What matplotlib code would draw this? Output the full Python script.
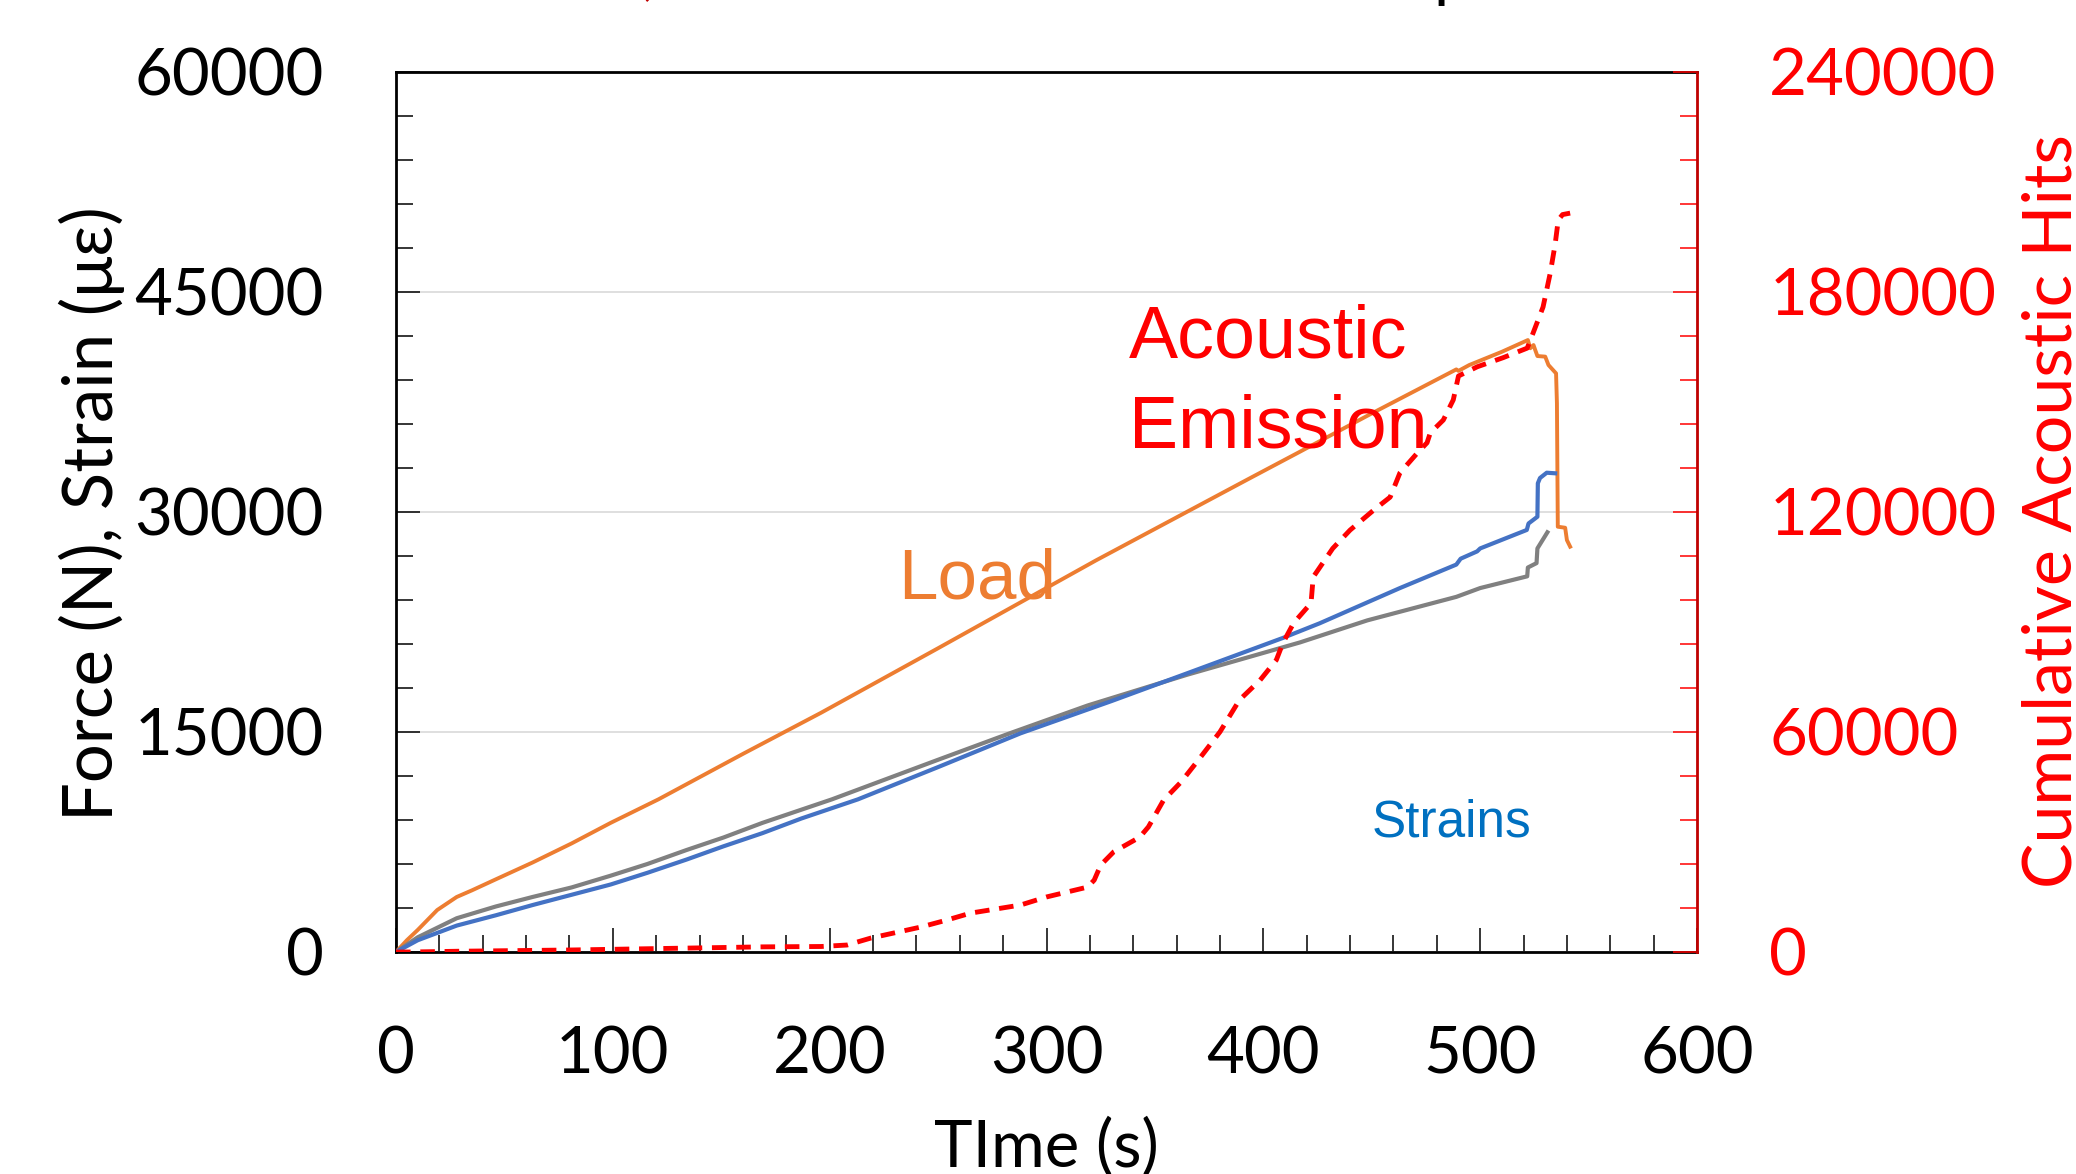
import matplotlib

matplotlib.use("Agg")
import matplotlib.pyplot as plt
from matplotlib.ticker import MultipleLocator

W, H = 2076, 1174

# load (N), kN units x1000
load_t = [0, 5, 10, 19, 28, 35, 46, 63, 81, 99, 121, 160, 196, 250, 323, 394, 417, 450, 489,
          490, 495, 510, 522.0, 523.1, 524.6, 525.4, 526.4, 530.0, 531.5, 535.0, 535.4, 535.8,
          539.2, 540.0, 541.5]
load_v = [0, 0.8, 1.5, 2.86, 3.75, 4.2, 4.95, 6.1, 7.4, 8.8, 10.4, 13.5, 16.3, 20.7, 26.7, 32.3, 34.1,
          36.7, 39.7, 39.6, 40.0, 40.9, 41.7, 41.14, 41.36, 41.02, 40.61, 40.57, 40.0, 39.43, 37.39,
          28.98, 28.91, 28.07, 27.62]

strain1_t = [0, 10, 28, 46, 63, 81, 99, 116, 134, 151, 169, 187, 213, 250, 288, 330, 365, 409, 426,
             463, 489, 491, 498.6, 500, 521.5, 522.3, 526.4, 526.6, 527.6, 530.7, 534.6]
strain1_v = [0, 0.8, 1.8, 2.5, 3.2, 3.9, 4.6, 5.4, 6.3, 7.2, 8.1, 9.1, 10.4, 12.6, 14.9, 17.1, 19.0,
             21.4, 22.4, 24.8, 26.4, 26.8, 27.3, 27.5, 28.76, 29.2, 29.66, 31.94, 32.3, 32.66, 32.62]

strain2_t = [0, 10, 28, 46, 63, 81, 99, 116, 134, 151, 169, 187, 201, 250, 283, 319, 365, 417, 448,
             489, 500, 521.7, 522, 526, 526.4, 531]
strain2_v = [0, 1.0, 2.3, 3.1, 3.75, 4.4, 5.2, 6.0, 6.95, 7.8, 8.8, 9.7, 10.4, 13.1, 14.9, 16.8, 18.9,
             21.1, 22.6, 24.2, 24.8, 25.6, 26.2, 26.5, 27.5, 28.6]

ae_t = [0, 7, 28, 81, 169, 196, 208, 219, 242, 254, 265, 288, 300, 319, 322, 325, 331, 343, 347, 354,
        362, 370, 380, 389, 398.5, 406, 409, 414, 422, 423, 432, 440, 451, 458.5, 463, 471, 475.5,
        477, 483, 487.6, 490, 498.6, 510.6, 521.7, 524.4, 529, 532.3, 534.6, 536, 538, 541.5]
ae_v = [0, 0, 0.2, 0.55, 1.4, 1.5, 1.9, 3.8, 6.8, 8.7, 10.6, 12.8, 15, 17.7, 19.6, 23.7, 27.3, 31.3,
        34.1, 41.4, 46.3, 52.3, 60, 68.7, 74.1, 79.6, 84.2, 89.7, 95.1, 102.2, 110, 115, 120.5, 124,
        130.6, 136, 138.8, 141.5, 145, 150.5, 157, 159.5, 162, 164.6, 168.7, 175.8, 185, 193, 199.5,
        201, 201.4]

FONT = ["Lato", "DejaVu Sans"]
ARIAL = ["Liberation Sans", "DejaVu Sans"]

fig = plt.figure(figsize=(W / 100, H / 100), dpi=100)
ax = fig.add_axes([396 / W, 1 - 952 / H, (1697 - 396) / W, (952 - 71.5) / H])
ax2 = ax.twinx()

ax.plot(load_t, [v * 1000 for v in load_v], color="#ED7D31", lw=2.8, zorder=3)
ax.plot(strain2_t, [v * 1000 for v in strain2_v], color="#808080", lw=3, zorder=3)
ax.plot(strain1_t, [v * 1000 for v in strain1_v], color="#4472C4", lw=3, zorder=3)
ax2.plot(ae_t, [v * 1000 for v in ae_v], color="#FF0000", lw=3.5, dashes=(3, 2))

ax.set_xlim(0, 600)
ax.set_ylim(0, 60000)
ax2.set_ylim(0, 240000)

ax.xaxis.set_major_locator(MultipleLocator(100))
ax.xaxis.set_minor_locator(MultipleLocator(20))
ax.yaxis.set_major_locator(MultipleLocator(15000))
ax.yaxis.set_minor_locator(MultipleLocator(3000))
ax2.yaxis.set_major_locator(MultipleLocator(60000))
ax2.yaxis.set_minor_locator(MultipleLocator(12000))

ax.grid(axis="y", which="major", color="#D9D9D9", lw=1.2, zorder=0)

ax.tick_params(axis="both", which="major", direction="in", length=17, width=1.1, color="black",
               labelsize=47, pad=52)
ax.tick_params(axis="both", which="minor", direction="in", length=12.5, width=1.1, color="black")
ax.tick_params(axis="x", which="major", pad=53)
ax.tick_params(top=False, which="both")
ax2.tick_params(axis="y", which="major", direction="in", length=17, width=1.1, color="#FF0000",
                labelsize=47, labelcolor="#FF0000", pad=52)
ax2.tick_params(axis="y", which="minor", direction="in", length=12.5, width=1.1, color="#FF0000")

for lab in ax.get_xticklabels() + ax.get_yticklabels() + ax2.get_yticklabels():
    lab.set_family(FONT)

for side in ("left", "bottom", "top"):
    ax.spines[side].set_linewidth(2)
    ax.spines[side].set_color("black")
ax2.spines["right"].set_color("#C00000")
ax2.spines["right"].set_linewidth(2)
for side in ("left", "bottom", "top"):
    ax2.spines[side].set_visible(False)

ax.text(338, 40500, "Acoustic", color="#FF0000", fontsize=53, family=ARIAL, va="baseline")
ax.text(338, 34400, "Emission", color="#FF0000", fontsize=53, family=ARIAL, va="baseline")
ax.text(231.5, 24100, "Load", color="#ED7D31", fontsize=51, family=ARIAL, va="baseline")
ax.text(450, 7850, "Strains", color="#0070C0", fontsize=37, family=ARIAL, va="baseline")

fig.text(92 / W, 1 - 514 / H, "Force (N), Strain (με)", rotation=90, ha="center", va="center",
         fontsize=49.5, family=FONT)
fig.text(2052 / W, 1 - 511 / H, "Cumulative Acoustic Hits", rotation=90, ha="center", va="center",
         fontsize=49, family=FONT, color="#FF0000")
fig.text(1046 / W, 1 - 1166 / H, "TIme (s)", ha="center", va="baseline", fontsize=47, family=FONT)

# title sits above the frame, only its descenders show
fig.text(649 / W, 1 + 8 / H, ",", color="#C00000", fontsize=47, family=FONT, ha="center", va="baseline")
fig.text(1452 / W, 1 + 5 / H, "p", color="black", fontsize=47, family=FONT, ha="center", va="baseline")

fig.savefig("out.png", dpi=100)
